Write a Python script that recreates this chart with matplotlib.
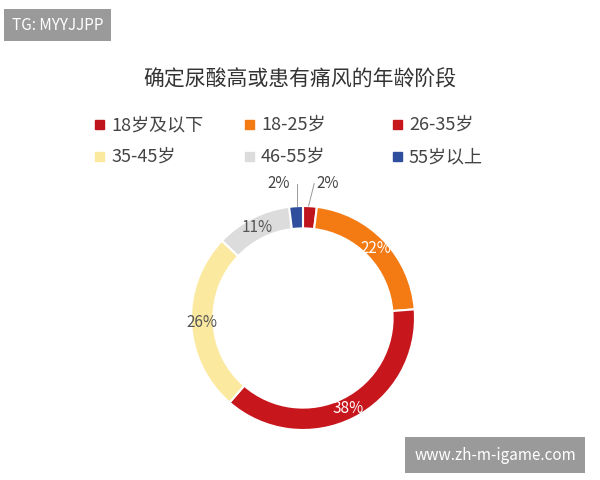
import matplotlib
matplotlib.use("Agg")
import matplotlib.pyplot as plt
import numpy as np
plt.rcParams['font.family'] = ['Noto Sans CJK SC', 'DejaVu Sans']

categories = ['18岁及以下', '18-25岁', '26-35岁', '35-45岁', '46-55岁', '55岁以上']
values = [2, 22, 38, 26, 11, 2]
colors = ['#c0141c', '#f47a14', '#c8161d', '#fbe9a0', '#dcdcdc', '#2f4f9e']

fig = plt.figure(figsize=(6, 4.8), dpi=100)
R = 112
ax = fig.add_axes([(303 - R)/600, 1 - (318 + R)/480, 2*R/600, 2*R/480])
wedges, _ = ax.pie(values, colors=colors, startangle=90, counterclock=False,
                   wedgeprops=dict(width=0.2, edgecolor='white', linewidth=1.5))
ax.set_xlim(-1, 1); ax.set_ylim(-1, 1)
ax.set_aspect('equal')
ax.set_autoscale_on(False)
txtcol = {1: 'white', 2: 'white', 3: '#555', 4: '#555'}
for i, w in enumerate(wedges):
    ang = np.deg2rad((w.theta1 + w.theta2) / 2)
    if i in txtcol:
        r = 0.9
        ax.text(r*np.cos(ang), r*np.sin(ang), f'{values[i]}%', ha='center', va='center',
                fontsize=11, color=txtcol[i])
ax.text(0.12, 1.2, '2%', ha='left', va='center', fontsize=11, color='#444', clip_on=False)
ax.text(-0.12, 1.2, '2%', ha='right', va='center', fontsize=11, color='#444', clip_on=False)
ax.plot([0.05, 0.1], [1.0, 1.2], color='#999', lw=0.7, clip_on=False)
ax.plot([-0.05, -0.05], [1.0, 1.2], color='#999', lw=0.7, clip_on=False)

fig.text(0.5, 1 - 80/480, '确定尿酸高或患有痛风的年龄阶段', ha='center', va='center', fontsize=15, color='#333')
lx = [95, 245, 393]
ly = [125, 157]
for i, c in enumerate(categories):
    x = lx[i % 3]; y = ly[i // 3]
    fig.patches.append(plt.Rectangle((x/600, 1 - (y+4)/480), 9/600, 9/480,
                                     transform=fig.transFigure, color=colors[i]))
    fig.text((x+16)/600, 1 - y/480, c, ha='left', va='center', fontsize=13, color='#444')

fig.text(12/600, 1 - 25/480, 'TG: MYYJJPP', ha='left', va='center', fontsize=11, color='white',
         bbox=dict(boxstyle='square,pad=0.5', fc='#9a9a9a', ec='none'))
fig.text(495/600, 1 - 455/480, 'www.zh-m-igame.com', ha='center', va='center', fontsize=11, color='white',
         bbox=dict(boxstyle='square,pad=0.6', fc='#9a9a9a', ec='none'))
fig.savefig('out.png', dpi=100)
